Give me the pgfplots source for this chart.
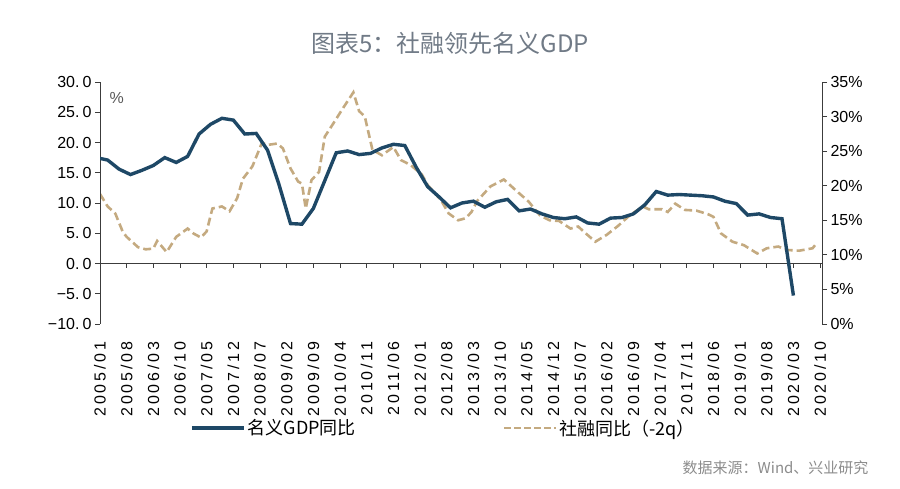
\documentclass[border=0pt]{standalone}
\usepackage{fontspec}
\setmainfont{Liberation Sans}
\newfontfamily\cjk{Noto Sans CJK SC}
\newfontfamily\xlab[LetterSpace=18]{Liberation Sans}
\usepackage{pgfplots}
\pgfplotsset{compat=1.18}
\definecolor{gdp}{RGB}{30,72,102}
\definecolor{tsf}{RGB}{196,170,128}
\definecolor{ttl}{RGB}{112,122,134}
\definecolor{src}{RGB}{140,140,140}
\definecolor{axc}{RGB}{60,60,60}
\begin{document}
\begin{tikzpicture}
\path[use as bounding box] (0pt,0pt) rectangle (900pt,489pt);
\node[font=\cjk\fontsize{24}{28}\selectfont, text=ttl] at (450pt,446pt) {图表5：社融领先名义GDP};
% right axis: social financing (-2q)
\begin{axis}[
  scale only axis, width=722pt, height=242pt, at={(100pt,165pt)}, anchor=south west,
  xmin=0, xmax=189.5, ymin=0, ymax=35,
  axis y line*=right, axis x line=none,
  y axis line style={axc, line width=0.9pt},
  ytick={0,5,...,35},
  yticklabels={0\%,5\%,10\%,15\%,20\%,25\%,30\%,35\%},
  yticklabel style={font=\fontsize{16}{18}\selectfont, text=black},
  ytick style={axc, line width=0.9pt},
  tick align=outside, major tick length=5pt,
]
\addplot[tsf, line width=2.6pt, dash pattern=on 8pt off 4pt] coordinates {
(0,18.8)(2,17.0)(4,16.0)(6,13.3)(7,12.6)(10,11.1)(12,10.8)(14,10.9)(15,12.0)(17.5,10.4)
(20,12.6)(23,13.8)(24.5,13.1)(26.5,12.5)(28,13.4)(29.5,16.7)(32,17.0)(34,16.3)(36,18.2)
(37.5,21.0)(40,22.8)(42.5,26.2)(44,25.9)(46.5,26.1)(48,25.4)(50,22.5)(52,20.6)(53,20.3)
(54,16.7)(55.5,20.8)(57.5,22.0)(59,27.1)(61,28.8)(64,31.4)(66.5,33.5)(68,30.8)(69.5,30.0)
(71.5,25.2)(74,24.4)(77,25.6)(79,23.7)(81.5,23.0)(84.5,21.6)(86,20.1)(89.5,17.9)(91.5,16.0)
(94,15.0)(96,15.3)(97.5,16.2)(99,17.8)(102.5,19.9)(106,20.9)(109,19.4)(112.5,17.7)(115.5,15.7)
(118,15.0)(120.5,14.9)(123.5,13.8)(125.5,14.1)(127.5,13.1)(130,11.9)(133,12.9)(136,14.2)
(139,15.7)(142.5,17.0)(144,16.6)(147.5,16.6)(149,16.2)(151,17.4)(153.5,16.5)(156.5,16.4)
(159.5,15.9)(161,15.5)(163,13.1)(166,11.9)(169,11.4)(172.5,10.2)(175,10.95)(178,11.2)
(180.5,10.7)(183.5,10.6)(187,10.95)(188,11.6)
};
\end{axis}
% left axis: nominal GDP
\begin{axis}[
  scale only axis, width=722pt, height=242pt, at={(100pt,165pt)}, anchor=south west,
  xmin=0, xmax=189.5, ymin=-10, ymax=30,
  axis y line*=left, axis x line*=bottom,
  x axis line style={draw=none},
  y axis line style={axc, line width=0.9pt},
  ytick={-10,-5,...,30},
  yticklabels={−10.\hspace{3pt}0,−5.\hspace{3pt}0,0.\hspace{3pt}0,5.\hspace{3pt}0,10.\hspace{3pt}0,15.\hspace{3pt}0,20.\hspace{3pt}0,25.\hspace{3pt}0,30.\hspace{3pt}0},
  yticklabel style={font=\fontsize{16}{18}\selectfont, text=black},
  ytick style={axc, line width=0.9pt},
  tick align=outside, major tick length=5pt,
  xtick={0,7,...,189},
  xticklabels={2005/01,2005/08,2006/03,2006/10,2007/05,2007/12,2008/07,2009/02,2009/09,2010/04,2010/11,2011/06,2012/01,2012/08,2013/03,2013/10,2014/05,2014/12,2015/07,2016/02,2016/09,2017/04,2017/11,2018/06,2019/01,2019/08,2020/03,2020/10},
  xtick style={draw=none},
  xticklabel style={rotate=90, anchor=east, font=\xlab\fontsize{16}{18}\selectfont, text=black},
  xticklabel shift=9pt,
  legend style={at={(axis description cs:0.1247,-0.43)}, anchor=west, draw=none, fill=none,
    legend columns=2, font=\cjk\fontsize{18}{20}\selectfont, inner sep=0pt,
    /tikz/every even column/.append style={column sep=145pt}},
  legend image code/.code={\draw[#1] (0pt,0pt) -- (52pt,0pt);},
]
\draw[axc, line width=0.9pt] (axis cs:0,0) -- (axis cs:189.5,0);
\pgfplotsinvokeforeach{0,7,...,189}{\draw[axc, line width=0.9pt] (axis cs:#1,0) -- ++(0pt,-5pt);}
\addplot[gdp, line width=3.4pt] coordinates {
(-1,17.5)(2,17.1)(5,15.6)(8,14.7)(11,15.4)(14,16.2)(17,17.5)(20,16.7)(23,17.7)(26,21.4)
(29,23.0)(32,24.0)(35,23.7)(38,21.4)(41,21.5)(44,18.7)(47,13.0)(50,6.6)(53,6.5)(56,9.1)
(59,13.7)(62,18.3)(65,18.6)(68,18.0)(71,18.2)(74,19.1)(77,19.7)(80,19.5)(83,15.9)(86,12.7)
(89,11.0)(92,9.2)(95,10.0)(98,10.3)(101,9.3)(104,10.2)(107,10.6)(110,8.7)(113,9.0)(116,8.2)
(119,7.6)(122,7.4)(125,7.7)(128,6.7)(131,6.5)(134,7.5)(137,7.6)(140,8.2)(143,9.7)(146,11.9)
(149,11.3)(152,11.4)(155,11.3)(158,11.2)(161,11.0)(164,10.3)(167,9.9)(170,8.0)(173,8.2)
(176,7.6)(179,7.4)(182,-5.3)
};
\addlegendentry{名义GDP同比}
\addlegendimage{tsf, line width=2.6pt, dash pattern=on 7pt off 3pt}
\addlegendentry{社融同比（-2q）}
\end{axis}
\node[anchor=west, font=\fontsize{16}{18}\selectfont, text=black!65] at (106pt,391pt) {\%};
\node[anchor=east, font=\cjk\fontsize{15}{17}\selectfont, text=src] at (872pt,21pt) {数据来源：Wind、兴业研究};
\end{tikzpicture}
\end{document}
